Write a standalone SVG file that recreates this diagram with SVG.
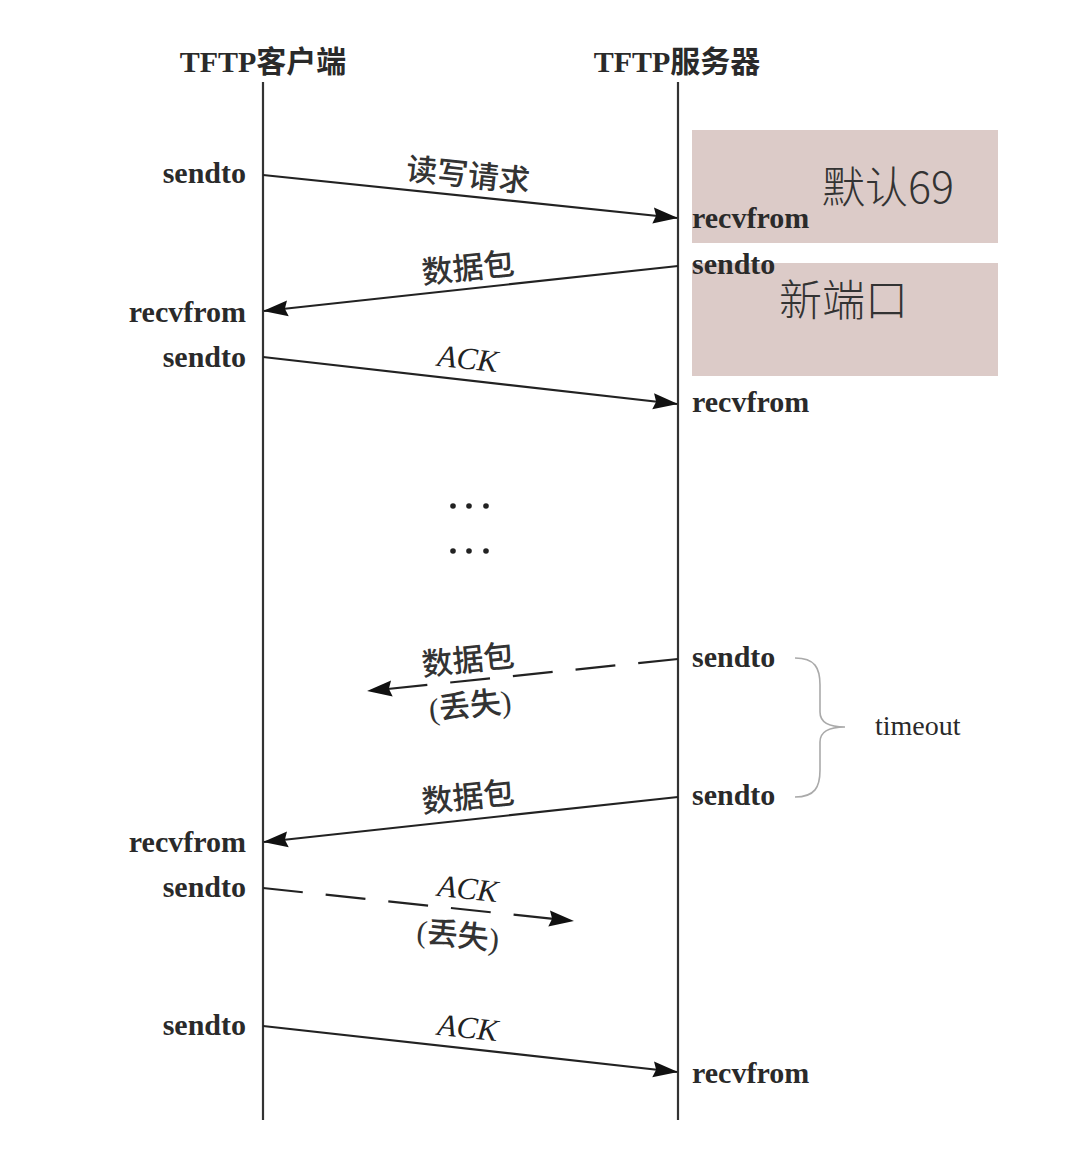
<svg xmlns="http://www.w3.org/2000/svg" width="1070" height="1170" viewBox="0 0 1070 1170">
<style>
.t{font-family:"Liberation Serif","Noto Sans CJK SC",serif;font-size:30px;font-weight:bold;fill:#2a2a2a}
.ti{font-family:"Liberation Serif",serif;font-size:31px;font-style:italic;fill:#222}
.cj{font-family:"Liberation Serif","Noto Sans CJK SC",serif;font-size:31px;fill:#333;font-weight:500}
.big{font-family:"Noto Sans CJK SC","Liberation Sans",sans-serif;font-size:43px;fill:#333;font-weight:300}
.life{stroke:#333;stroke-width:2.2;fill:none}
.msg{stroke:#222;stroke-width:2.2;fill:none}
.dash{stroke-dasharray:40 23}
.box{fill:#dccbc8}
</style>
<defs>
<marker id="ah" markerUnits="userSpaceOnUse" markerWidth="26" markerHeight="18" refX="24" refY="9" orient="auto">
<path d="M0,1 L25,9 L0,17 L3,9 Z" fill="#111"/>
</marker>
</defs>
<rect width="1070" height="1170" fill="#fff"/>
<g id="boxes">
<rect class="box" x="692" y="130" width="306" height="113"/>
<rect class="box" x="692" y="263" width="306" height="113"/>
<text class="big" x="822" y="203">默认69</text>
<text class="big" x="779" y="316">新端口</text>
</g>
<g id="client">
<text class="t" x="263" y="72" text-anchor="middle">TFTP客户端</text>
<line class="life" x1="263" y1="82" x2="263" y2="1120"/>
</g>
<g id="server">
<text class="t" x="677" y="72" text-anchor="middle">TFTP服务器</text>
<line class="life" x1="678" y1="82" x2="678" y2="1120"/>
</g>
<g id="labels">
<text class="t" x="246" y="183" text-anchor="end">sendto</text>
<text class="t" x="692" y="228">recvfrom</text>
<text class="t" x="692" y="274">sendto</text>
<text class="t" x="246" y="322" text-anchor="end">recvfrom</text>
<text class="t" x="246" y="367" text-anchor="end">sendto</text>
<text class="t" x="692" y="412">recvfrom</text>
<text class="t" x="692" y="667">sendto</text>
<text class="t" x="692" y="805">sendto</text>
<text class="t" x="246" y="852" text-anchor="end">recvfrom</text>
<text class="t" x="246" y="897" text-anchor="end">sendto</text>
<text class="t" x="246" y="1035" text-anchor="end">sendto</text>
<text class="t" x="692" y="1083">recvfrom</text>
<text class="t" x="875" y="735" style="font-size:28px;font-weight:normal">timeout</text>
</g>
<g id="dots" fill="#222">
<circle cx="453" cy="506" r="2.8"/><circle cx="469" cy="506" r="2.8"/><circle cx="486" cy="506" r="2.8"/>
<circle cx="453" cy="551" r="2.8"/><circle cx="469" cy="551" r="2.8"/><circle cx="486" cy="551" r="2.8"/>
</g>
<g id="connectors">
<line class="msg" x1="263" y1="175" x2="677" y2="218" marker-end="url(#ah)"/>
<line class="msg" x1="678" y1="266" x2="264" y2="311" marker-end="url(#ah)"/>
<line class="msg" x1="263" y1="357" x2="677" y2="404" marker-end="url(#ah)"/>
<line class="msg dash" x1="678" y1="659" x2="368" y2="691" marker-end="url(#ah)"/>
<line class="msg" x1="678" y1="797" x2="264" y2="842" marker-end="url(#ah)"/>
<line class="msg dash" x1="263" y1="888" x2="573" y2="921" marker-end="url(#ah)"/>
<line class="msg" x1="263" y1="1026" x2="677" y2="1072" marker-end="url(#ah)"/>
<path d="M795,658 C815,658 820,668 820,685 L820,712 C820,722 828,727 845,727 C828,727 820,732 820,742 L820,770 C820,787 815,797 795,797" fill="none" stroke="#aaa" stroke-width="1.6"/>
</g>
<g id="msglabels">
<text class="cj" x="468" y="186" text-anchor="middle" transform="rotate(6 468 175)">读写请求</text>
<text class="cj" x="468" y="279" text-anchor="middle" transform="rotate(-6 468 268)">数据包</text>
<text class="ti" x="468" y="369" text-anchor="middle" transform="rotate(6 468 358)">ACK</text>
<text class="cj" x="468" y="671" text-anchor="middle" transform="rotate(-6 468 660)">数据包</text>
<text class="cj" x="470" y="716" text-anchor="middle" transform="rotate(-6 470 705)">(丢失)</text>
<text class="cj" x="468" y="808" text-anchor="middle" transform="rotate(-6 468 797)">数据包</text>
<text class="ti" x="468" y="899" text-anchor="middle" transform="rotate(6 468 888)">ACK</text>
<text class="cj" x="458" y="946" text-anchor="middle" transform="rotate(6 458 935)">(丢失)</text>
<text class="ti" x="468" y="1038" text-anchor="middle" transform="rotate(6 468 1027)">ACK</text>
</g>
</svg>
